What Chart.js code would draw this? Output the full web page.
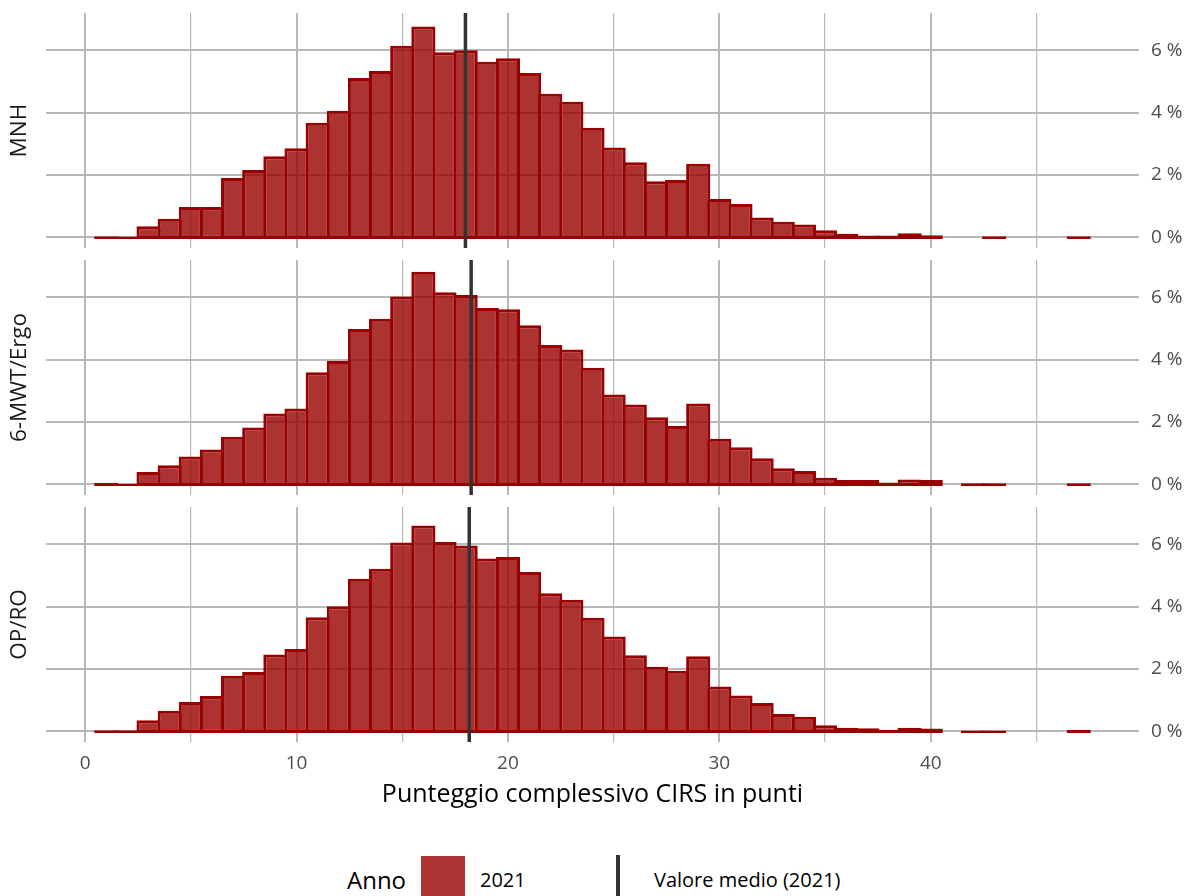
<!DOCTYPE html>
<html lang="it">
<head>
<meta charset="utf-8">
<title>Punteggio complessivo CIRS</title>
<script src="https://cdn.jsdelivr.net/npm/chart.js@4.4.1/dist/chart.umd.min.js"></script>
<style>
  html, body { margin: 0; padding: 0; background: #fff; width: 1190px; height: 896px; overflow: hidden; }
  body { position: relative; font-family: 'Open Sans', sans-serif; }
  canvas { position: absolute; left: 0; }
  .lg { position: absolute; white-space: nowrap; color: #000; }
</style>
</head>
<body>
<canvas id="p0" width="1190" height="239" style="top:11px"></canvas>
<canvas id="p1" width="1190" height="239" style="top:258px"></canvas>
<canvas id="p2" width="1190" height="305" style="top:505px"></canvas>

<div class="lg" id="lgTitle" style="left:347px; top:865px; font-size:24px; line-height:30px;"></div>
<div id="lgBox" style="position:absolute; left:421px; top:856px; width:44px; height:44px; background:rgba(153,0,0,0.8);"></div>
<div class="lg" id="lgYear" style="left:480px; top:867px; font-size:20px; line-height:26px;"></div>
<div id="lgLine" style="position:absolute; left:616px; top:855px; width:4px; height:45px; background:#333333;"></div>
<div class="lg" id="lgMean" style="left:654px; top:867px; font-size:20px; line-height:26px;"></div>

<script>
// Score bins (CIRS total points), one bar per integer score
const bins = [1, 2, 3, 4, 5, 6, 7, 8, 9, 10, 11, 12, 13, 14, 15, 16, 17, 18, 19, 20,
              21, 22, 23, 24, 25, 26, 27, 28, 29, 30, 31, 32, 33, 34, 35, 36, 37, 38, 39, 40,
              41, 42, 43, 44, 45, 46, 47];

// Share of patients per score (%), null = no patients in that bin
const shareMNH = [0.04, 0.03, 0.36, 0.60, 0.97, 0.97, 1.90, 2.16, 2.60, 2.86,
                  3.67, 4.06, 5.11, 5.33, 6.14, 6.76, 5.93, 6.00, 5.63, 5.74,
                  5.27, 4.60, 4.35, 3.51, 2.88, 2.41, 1.80, 1.84, 2.36, 1.23,
                  1.07, 0.64, 0.50, 0.41, 0.23, 0.12, 0.06, 0.06, 0.13, 0.07,
                  null, null, 0.04, null, null, null, 0.04];
const shareMWT = [0.05, 0.02, 0.40, 0.61, 0.89, 1.12, 1.53, 1.82, 2.27, 2.43,
                  3.59, 3.95, 4.98, 5.31, 6.02, 6.81, 6.16, 6.07, 5.65, 5.61,
                  5.10, 4.47, 4.32, 3.74, 2.88, 2.56, 2.15, 1.87, 2.59, 1.46,
                  1.19, 0.84, 0.52, 0.43, 0.21, 0.14, 0.14, 0.06, 0.16, 0.14,
                  null, 0.04, 0.04, null, null, null, 0.04];
const shareOP  = [0.04, 0.04, 0.36, 0.66, 0.94, 1.13, 1.78, 1.90, 2.46, 2.64,
                  3.66, 4.01, 4.89, 5.21, 6.05, 6.60, 6.07, 5.96, 5.54, 5.59,
                  5.11, 4.43, 4.22, 3.64, 3.04, 2.44, 2.07, 1.94, 2.41, 1.44,
                  1.15, 0.91, 0.56, 0.47, 0.20, 0.12, 0.10, 0.05, 0.12, 0.09,
                  null, 0.03, 0.03, null, null, null, 0.05];

// Mean score per group
const groups = ['MNH', '6-MWT/Ergo', 'OP/RO'];
const meanScore = [17.99, 18.26, 18.17];

// Axis ticks
const xGridTicks = [0, 5, 10, 15, 20, 25, 30, 35, 40, 45];
const xLabelTicks = [0, 10, 20, 30, 40];
const yTicks = [0, 2, 4, 6];

// Texts
const xTitle = 'Punteggio complessivo CIRS in punti';
const legendTitle = 'Anno';
const legendYear = '2021';
const legendMean = 'Valore medio (2021)';

const FONT = "'Open Sans', sans-serif";
const GRID = '#b8b8b8';
const X_MIN = -1.85, X_MAX = 49.85;
const Y_MIN = -0.34, Y_MAX = 7.19;

// Rotated facet label drawn on the left of each panel
const stripLabel = {
  id: 'stripLabel',
  afterDraw(chart, args, opts) {
    const { ctx, chartArea } = chart;
    ctx.save();
    ctx.translate(opts.x, (chartArea.top + chartArea.bottom) / 2);
    ctx.rotate(-Math.PI / 2);
    ctx.font = '22.5px ' + FONT;
    ctx.fillStyle = '#1a1a1a';
    ctx.textAlign = 'center';
    ctx.textBaseline = 'middle';
    ctx.fillText(opts.text, 0, 0);
    ctx.restore();
  }
};

function makePanel(canvasId, label, values, mean, showX) {
  return new Chart(document.getElementById(canvasId), {
    type: 'bar',
    data: {
      datasets: [
        {
          type: 'line',
          data: [{ x: mean, y: Y_MIN }, { x: mean, y: Y_MAX }],
          borderColor: '#333333',
          borderWidth: 3.5,
          pointRadius: 0,
          clip: 0,
          order: 0
        },
        {
          type: 'bar',
          data: bins.map((b, i) => ({ x: b, y: values[i] })),
          backgroundColor: 'rgba(153,0,0,0.8)',
          borderColor: '#990000',
          borderWidth: 3,
          borderSkipped: false,
          barPercentage: 1.142,
          categoryPercentage: 1,
          base: -0.048,
          inflateAmount: 0,
          order: 1
        }
      ]
    },
    options: {
      responsive: false,
      animation: false,
      events: [],
      layout: { padding: { left: 46, right: 0, top: 2, bottom: 0 } },
      plugins: {
        legend: { display: false },
        tooltip: { enabled: false },
        stripLabel: { text: label, x: 20 }
      },
      scales: {
        x: {
          type: 'linear',
          position: 'bottom',
          offset: false,
          min: X_MIN,
          max: X_MAX,
          afterBuildTicks: s => { s.ticks = xGridTicks.map(v => ({ value: v })); },
          afterFit: s => { s.height = showX ? 68 : 2; s.paddingLeft = 0; s.paddingRight = 0; },
          grid: {
            offset: false,
            color: GRID,
            lineWidth: c => (c.tick && xLabelTicks.includes(c.tick.value)) ? 2 : 1.2,
            drawTicks: false
          },
          border: { display: false },
          ticks: {
            display: showX,
            autoSkip: false,
            maxRotation: 0,
            padding: 10,
            color: '#4d4d4d',
            font: { family: FONT, size: 19 },
            callback: v => xLabelTicks.includes(v) ? String(v) : ''
          },
          title: {
            display: showX,
            text: xTitle,
            color: '#000',
            font: { family: FONT, size: 25 },
            padding: { top: 0, bottom: 0 }
          }
        },
        y: {
          type: 'linear',
          position: 'right',
          min: Y_MIN,
          max: Y_MAX,
          afterBuildTicks: s => { s.ticks = yTicks.map(v => ({ value: v })); },
          afterFit: s => { s.width = 51; s.paddingTop = 0; s.paddingBottom = 0; },
          grid: { color: GRID, lineWidth: 2, drawTicks: false },
          border: { display: false },
          ticks: {
            padding: 12,
            color: '#4d4d4d',
            font: { family: FONT, size: 19 },
            callback: v => v + ' %'
          }
        }
      }
    },
    plugins: [stripLabel]
  });
}

makePanel('p0', groups[0], shareMNH, meanScore[0], false);
makePanel('p1', groups[1], shareMWT, meanScore[1], false);
makePanel('p2', groups[2], shareOP, meanScore[2], true);

document.getElementById('lgTitle').textContent = legendTitle;
document.getElementById('lgYear').textContent = legendYear;
document.getElementById('lgMean').textContent = legendMean;
</script>
</body>
</html>
